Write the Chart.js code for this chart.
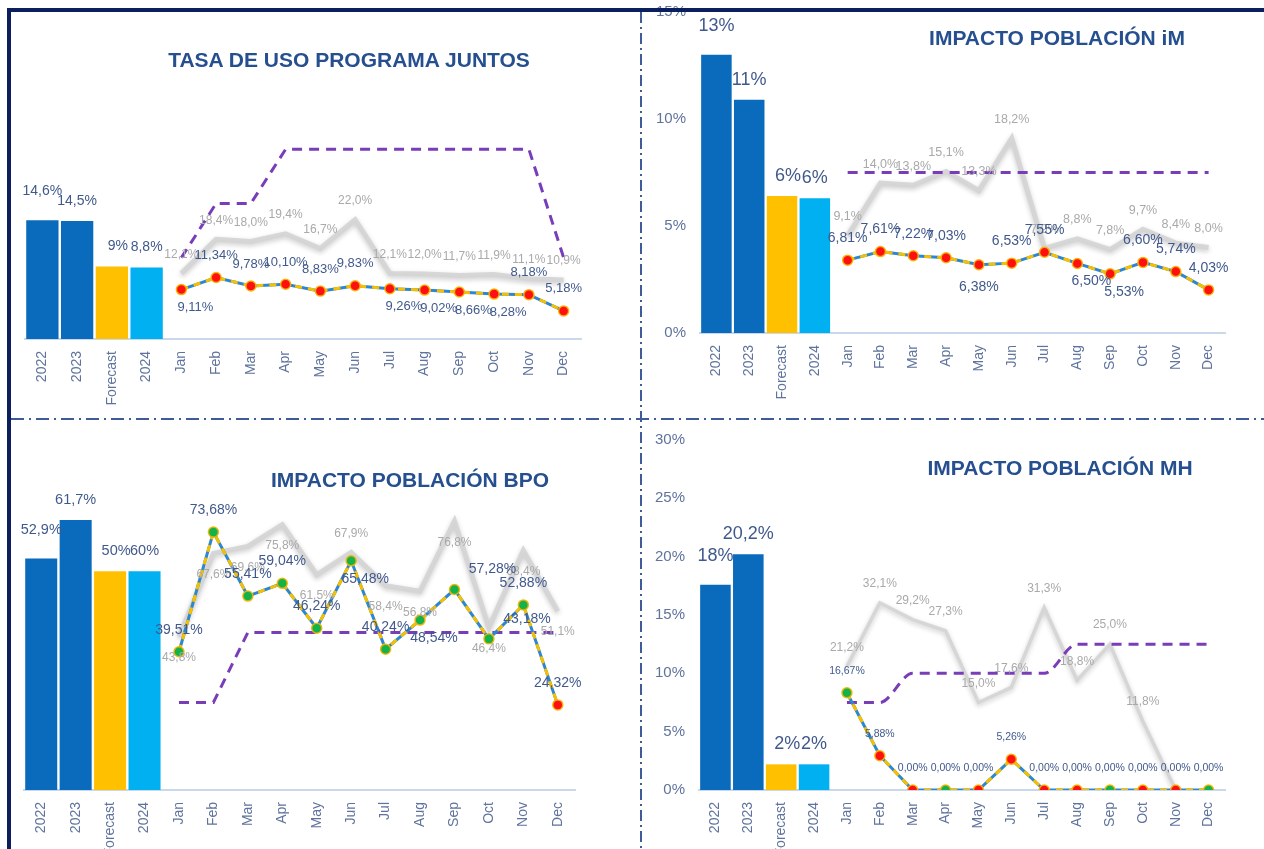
<!DOCTYPE html>
<html lang="es">
<head>
<meta charset="utf-8">
<title>Programa Juntos</title>
<script src="https://cdn.jsdelivr.net/npm/chart.js@4.4.1/dist/chart.umd.min.js"></script>
<style>
  html, body { margin: 0; padding: 0; background: #fff; }
  body { width: 1264px; height: 849px; position: relative; overflow: hidden; font-family: "Liberation Sans", Arial, sans-serif; }
  canvas { position: absolute; }
  .title { position: absolute; font-size: 21px; line-height: 21px; font-weight: bold; color: #254f8e; white-space: nowrap; transform: translateX(-50%); z-index: 3; }
  .frame-top { position: absolute; left: 7px; top: 8px; width: 1257px; height: 4px; background: #0b1f5e; z-index: 4; }
  .frame-left { position: absolute; left: 7px; top: 8px; width: 4px; height: 841px; background: #0b1f5e; z-index: 4; }
  .div-v { position: absolute; left: 640px; top: 12px; width: 2px; height: 837px; z-index: 2;
    background: repeating-linear-gradient(to bottom, #3f5b9a 0 11px, transparent 11px 15px, #3f5b9a 15px 17px, transparent 17px 21px); }
  .div-h { position: absolute; left: 11px; top: 418px; width: 1253px; height: 2px; z-index: 2;
    background: repeating-linear-gradient(to right, #3f5b9a 0 13px, transparent 13px 18px, #3f5b9a 18px 20px, transparent 20px 25px); }
</style>
</head>
<body>
<div class="frame-top"></div>
<div class="frame-left"></div>
<div class="div-v"></div>
<div class="div-h"></div>
<div class="title" style="left:349px; top:49px">TASA DE USO PROGRAMA JUNTOS</div>
<div class="title" style="left:1057px; top:27px">IMPACTO POBLACIÓN iM</div>
<div class="title" style="left:410px; top:469px">IMPACTO POBLACIÓN BPO</div>
<div class="title" style="left:1060px; top:457px">IMPACTO POBLACIÓN MH</div>

<script>
const FONT = '"Liberation Sans", Arial, sans-serif';

const barCategories = ['2022', '2023', 'Forecast', '2024'];
const months = ['Jan', 'Feb', 'Mar', 'Apr', 'May', 'Jun', 'Jul', 'Aug', 'Sep', 'Oct', 'Nov', 'Dec'];

// TASA DE USO PROGRAMA JUNTOS
const juntosYears = [14.6, 14.5, 8.9, 8.8];
const juntosYearText = ['14,6%', '14,5%', '9%', '8,8%'];
const juntosMonthly = [9.11, 11.34, 9.78, 10.10, 8.83, 9.83, 9.26, 9.02, 8.66, 8.28, 8.18, 5.18];
const juntosPrev = [12.1, 18.4, 18.0, 19.4, 16.7, 22.0, 12.1, 12.0, 11.7, 11.9, 11.1, 10.9];
const juntosTarget = [15, 25, 25, 35, 35, 35, 35, 35, 35, 35, 35, 15];
const juntosStatus = ['low', 'low', 'low', 'low', 'low', 'low', 'low', 'low', 'low', 'low', 'low', 'low'];
const juntosMonthlyPos = ['br', 'a', 'a', 'a', 'a', 'a', 'br', 'br', 'br', 'br', 'a', 'a'];
const juntosPrevPos = ['a', 'a', 'a', 'a', 'a', 'a', 'a', 'a', 'a', 'a', 'a', 'a'];

// IMPACTO POBLACIÓN iM
const imYears = [13.0, 10.9, 6.4, 6.3];
const imYearText = ['13%', '11%', '6%', '6%'];
const imMonthly = [6.81, 7.61, 7.22, 7.03, 6.38, 6.53, 7.55, 6.50, 5.53, 6.60, 5.74, 4.03];
const imPrev = [9.1, 14.0, 13.8, 15.1, 13.3, 18.2, 7.9, 8.8, 7.8, 9.7, 8.4, 8.0];
const imTarget = [15, 15, 15, 15, 15, 15, 15, 15, 15, 15, 15, 15];
const imStatus = ['low', 'low', 'low', 'low', 'low', 'low', 'low', 'low', 'low', 'low', 'low', 'low'];
const imMonthlyPos = ['a', 'a', 'a', 'a', 'b', 'a', 'a', 'br', 'br', 'a', 'a', 'a'];
const imPrevPos = ['a', 'a', 'a', 'a', 'a', 'a', 'a', 'a', 'a', 'a', 'a', 'a'];

// IMPACTO POBLACIÓN BPO
const bpoYears = [52.9, 61.7, 50, 50];
const bpoYearText = ['52,9%', '61,7%', '50%', '60%'];
const bpoMonthly = [39.51, 73.68, 55.41, 59.04, 46.24, 65.48, 40.24, 48.54, 57.28, 43.18, 52.88, 24.32];
const bpoPrev = [43.8, 67.6, 69.6, 75.8, 61.5, 67.9, 58.4, 56.8, 76.8, 46.4, 68.4, 51.1];
const bpoTarget = [25, 25, 45, 45, 45, 45, 45, 45, 45, 45, 45, 45];
const bpoStatus = ['ok', 'ok', 'ok', 'ok', 'ok', 'ok', 'ok', 'ok', 'ok', 'ok', 'ok', 'low'];
const bpoMonthlyPos = ['a', 'a', 'a', 'a', 'a', 'br', 'a', 'br', 'ar', 'ar', 'a', 'a'];
const bpoPrevPos = ['b', 'b', 'b', 'b', 'b', 'a', 'b', 'b', 'b', 'b', 'b', 'b'];

// IMPACTO POBLACIÓN MH
const mhYears = [17.6, 20.2, 2.2, 2.2];
const mhYearText = ['18%', '20,2%', '2%', '2%'];
const mhMonthly = [16.67, 5.88, 0, 0, 0, 5.26, 0, 0, 0, 0, 0, 0];
const mhPrev = [21.2, 32.1, 29.2, 27.3, 15.0, 17.6, 31.3, 18.8, 25.0, 11.8, 0, null];
const mhTarget = [15, 15, 20, 20, 20, 20, 20, 25, 25, 25, 25, 25];
const mhStatus = ['ok', 'low', 'low', 'ok', 'low', 'low', 'low', 'low', 'ok', 'low', 'low', 'ok'];
const mhMonthlyPos = ['a', 'a', 'a', 'a', 'a', 'a', 'a', 'a', 'a', 'a', 'a', 'a'];
const mhPrevPos = ['a', 'a', 'a', 'a', 'a', 'a', 'a', 'a', 'a', 'a', 'a', 'a'];

const barColors = ['#0a6bbd', '#0a6bbd', '#ffc000', '#00b0f0'];
const statusColors = { ok: '#12b34a', low: '#ff1010' };
const tickColor = '#5f739c';
const labelBlue = '#40598c';
const labelGrey = '#a9a9a9';

function pct(v, decimals) {
    return v.toFixed(decimals).replace('.', ',') + '%';
}

function blank(n) {
    const out = [];
    for (let i = 0; i < n; i++) out.push(null);
    return out;
}

// draws value labels next to bars and points
const pointLabels = {
    id: 'pointLabels',
    afterDatasetsDraw(chart) {
        const ctx = chart.ctx;
        chart.data.datasets.forEach((ds, i) => {
            if (!ds.labelText) return;
            const meta = chart.getDatasetMeta(i);
            ctx.save();
            ctx.font = ds.labelSize + 'px ' + FONT;
            ctx.fillStyle = ds.labelColor;
            ctx.textAlign = 'center';
            ctx.textBaseline = 'middle';
            meta.data.forEach((el, j) => {
                const txt = ds.labelText[j];
                if (!txt) return;
                const off = ds.labelOffset(j);
                ctx.fillText(txt, el.x + off[0], el.y + off[1]);
            });
            ctx.restore();
        });
    }
};

const softShadow = {
    id: 'softShadow',
    beforeDatasetDraw(chart, args) {
        if (!chart.data.datasets[args.index].shadow) return;
        const ctx = chart.ctx;
        ctx.save();
        ctx.shadowColor = 'rgba(0, 0, 0, 0.22)';
        ctx.shadowBlur = 5;
        ctx.shadowOffsetY = 2;
    },
    afterDatasetDraw(chart, args) {
        if (chart.data.datasets[args.index].shadow) chart.ctx.restore();
    }
};

function makePanel(p) {
    const padL = 10, padR = 45, padT = 45, xh = 80;
    const yw = p.showAxis ? 50 : 0;
    const [L, T, R, B] = p.area;
    const canvas = document.createElement('canvas');
    canvas.width = Math.round(R - L + yw + padL + padR);
    canvas.height = Math.round(B - T + padT + xh);
    canvas.style.left = Math.round(L - yw - padL) + 'px';
    canvas.style.top = Math.round(T - padT) + 'px';
    document.body.appendChild(canvas);

    const pad = blank(barCategories.length);
    const blueOff = { a: [0, -22], b: [0, 22], br: [14, 18], ar: [38, -20] };
    const greyOff = { a: [0, -19], b: [0, 21] };

    const yScale = {
        display: p.showAxis,
        position: 'left',
        min: 0,
        max: p.yMax,
        grid: { display: false },
        border: { display: false },
        ticks: {
            stepSize: 5,
            padding: 6,
            color: tickColor,
            font: { size: 15, family: FONT },
            callback: v => v + '%'
        }
    };
    if (p.showAxis) yScale.afterFit = s => { s.width = yw; };

    return new Chart(canvas, {
        data: {
            labels: barCategories.concat(months),
            datasets: [
                {
                    type: 'bar',
                    data: p.years.concat(blank(months.length)),
                    backgroundColor: barColors,
                    barPercentage: 0.93,
                    categoryPercentage: 1,
                    yAxisID: 'y',
                    order: 4,
                    labelText: p.yearText,
                    labelSize: p.fonts.bar,
                    labelColor: labelBlue,
                    // first bar label sits higher, forecast label nudged right
                    labelOffset: j => [j === 2 ? 6 : 0, j === 0 ? -29 : -20]
                },
                {
                    type: 'line',
                    data: pad.concat(p.prev),
                    borderColor: 'rgba(212, 212, 212, 0.9)',
                    borderWidth: p.fonts.greyWidth,
                    pointRadius: 0,
                    yAxisID: 'y1',
                    order: 3,
                    shadow: true,
                    labelText: pad.concat(p.prev.map(v => (v === null || v === 0) ? null : pct(v, 1))),
                    labelSize: p.fonts.grey,
                    labelColor: labelGrey,
                    labelOffset: j => greyOff[p.prevPos[j - 4]] || [0, -19]
                },
                {
                    type: 'line',
                    data: pad.concat(p.target),
                    borderColor: '#7a3db8',
                    borderWidth: 3,
                    borderDash: [10, 7],
                    pointRadius: 0,
                    cubicInterpolationMode: p.smoothTarget ? 'monotone' : 'default',
                    yAxisID: 'y1',
                    order: 2
                },
                {
                    type: 'line',
                    data: pad.concat(p.monthly),
                    borderColor: '#2c86d2',
                    borderWidth: 3,
                    pointRadius: 0,
                    yAxisID: 'y1',
                    order: 1
                },
                {
                    type: 'line',
                    data: pad.concat(p.monthly),
                    borderColor: '#f5c000',
                    borderWidth: 3,
                    borderDash: [7, 6],
                    pointRadius: 5,
                    pointBorderWidth: 1.5,
                    pointBorderColor: 'rgba(245, 180, 0, 0.9)',
                    pointBackgroundColor: pad.concat(p.status.map(s => statusColors[s])),
                    yAxisID: 'y1',
                    order: 0,
                    labelText: pad.concat(p.monthly.map(v => pct(v, 2))),
                    labelSize: p.fonts.blue,
                    labelColor: labelBlue,
                    labelOffset: j => blueOff[p.monthlyPos[j - 4]] || [0, -22]
                }
            ]
        },
        options: {
            responsive: false,
            animation: false,
            events: [],
            layout: { padding: { left: padL, right: padR, top: padT, bottom: 0 } },
            plugins: {
                legend: { display: false },
                tooltip: { enabled: false }
            },
            scales: {
                x: {
                    type: 'category',
                    offset: true,
                    grid: { display: false },
                    border: { display: true, color: '#c9d8ec', width: 2 },
                    ticks: {
                        autoSkip: false,
                        minRotation: 90,
                        maxRotation: 90,
                        padding: 4,
                        color: tickColor,
                        font: { size: 14, family: FONT }
                    },
                    afterFit: s => { s.height = xh; }
                },
                y: yScale,
                y1: { display: false, min: 0, max: p.y1Max }
            }
        },
        plugins: [softShadow, pointLabels]
    });
}

makePanel({
    area: [25.4, 95.4, 581.7, 339], yMax: 30, y1Max: 45, showAxis: false,
    years: juntosYears, yearText: juntosYearText, monthly: juntosMonthly, prev: juntosPrev,
    target: juntosTarget, status: juntosStatus, monthlyPos: juntosMonthlyPos, prevPos: juntosPrevPos,
    fonts: { bar: 14, blue: 13, grey: 12, greyWidth: 5 }, smoothTarget: false
});
makePanel({
    area: [699.6, 12, 1224.4, 333], yMax: 15, y1Max: 30, showAxis: true,
    years: imYears, yearText: imYearText, monthly: imMonthly, prev: imPrev,
    target: imTarget, status: imStatus, monthlyPos: imMonthlyPos, prevPos: imPrevPos,
    fonts: { bar: 18, blue: 14, grey: 12.5, greyWidth: 5 }, smoothTarget: false
});
makePanel({
    area: [23.8, 440, 575, 790], yMax: 80, y1Max: 100, showAxis: false,
    years: bpoYears, yearText: bpoYearText, monthly: bpoMonthly, prev: bpoPrev,
    target: bpoTarget, status: bpoStatus, monthlyPos: bpoMonthlyPos, prevPos: bpoPrevPos,
    fonts: { bar: 14.5, blue: 14, grey: 12, greyWidth: 5 }, smoothTarget: false
});
makePanel({
    area: [698.6, 440, 1224.4, 790], yMax: 30, y1Max: 60, showAxis: true,
    years: mhYears, yearText: mhYearText, monthly: mhMonthly, prev: mhPrev,
    target: mhTarget, status: mhStatus, monthlyPos: mhMonthlyPos, prevPos: mhPrevPos,
    fonts: { bar: 18, blue: 10.5, grey: 12, greyWidth: 3.5 }, smoothTarget: true
});
</script>
</body>
</html>
